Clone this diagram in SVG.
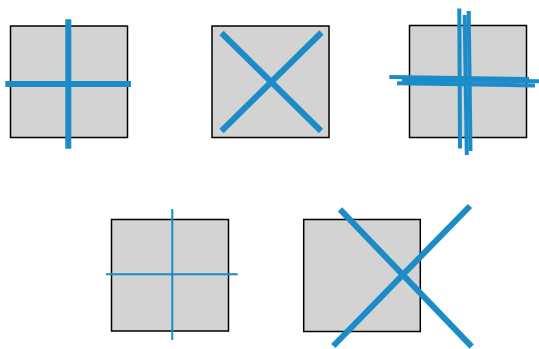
<svg xmlns="http://www.w3.org/2000/svg" width="539" height="349" viewBox="0 0 539 349">
<style>
.box{fill:#d3d3d3;stroke:#000;stroke-width:1.5}
.thick{stroke:#1b8cc8;stroke-width:6;fill:none}
.sk{stroke:#1b8cc8;stroke-width:4;fill:none}
.thin{stroke:#1b8cc8;stroke-width:2;fill:none}
</style>
<rect width="539" height="349" fill="#fff"/>
<g id="plus-thick">
<rect class="box" x="10.5" y="26" width="117" height="111.5"/>
<line class="thick" x1="68.3" y1="19.3" x2="68.3" y2="148.7"/>
<line class="thick" x1="5.3" y1="84" x2="131" y2="84"/>
</g>
<g id="cross-inside">
<rect class="box" x="212" y="26" width="117" height="111.5"/>
<line class="thick" x1="221.5" y1="33" x2="321" y2="131"/>
<line class="thick" x1="221.5" y1="131" x2="321.5" y2="32.5"/>
</g>
<g id="plus-sketchy">
<rect class="box" x="409.5" y="25.5" width="117" height="112"/>
<line class="sk" x1="459.3" y1="8.5" x2="460" y2="148.5"/>
<line class="sk" x1="464.7" y1="15" x2="466.8" y2="155"/>
<line class="sk" x1="468.7" y1="11" x2="470.5" y2="151"/>
<line class="sk" x1="389.3" y1="77" x2="529" y2="79"/>
<line class="sk" x1="397" y1="83.3" x2="535" y2="85.5"/>
<line class="sk" x1="402" y1="80" x2="539" y2="81.3"/>
</g>
<g id="plus-thin">
<rect class="box" x="111.5" y="219.5" width="117" height="111.5"/>
<line class="thin" x1="172.3" y1="209" x2="172.3" y2="340"/>
<line class="thin" x1="106" y1="274.3" x2="237.7" y2="274.3"/>
</g>
<g id="cross-overflow">
<rect class="box" x="303.7" y="219.5" width="116.6" height="112"/>
<line class="thick" x1="340" y1="209.3" x2="471.7" y2="346.7"/>
<line class="thick" x1="333.3" y1="346" x2="470" y2="206"/>
</g>
</svg>
